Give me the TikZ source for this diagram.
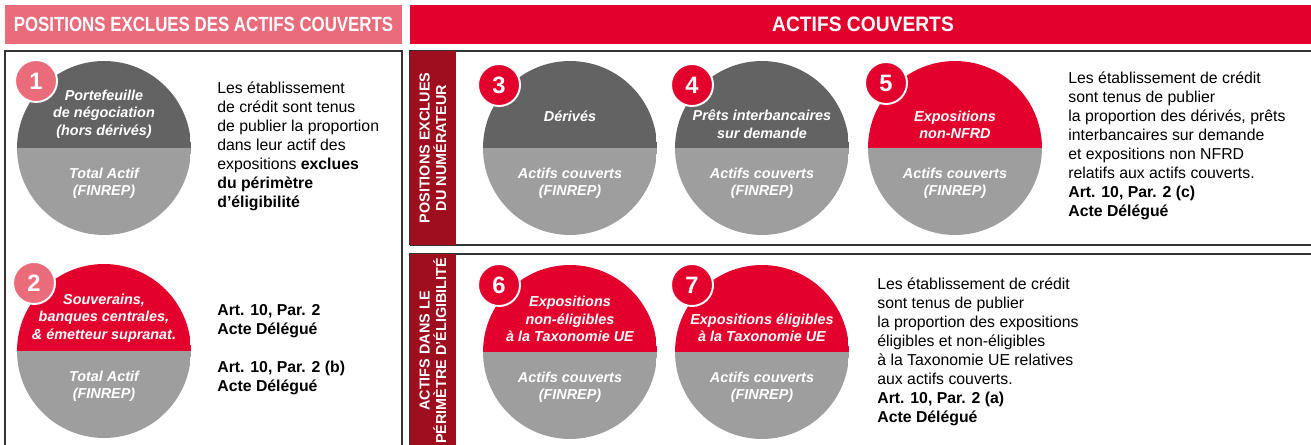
\documentclass[tikz,border=0pt]{standalone}
\usepackage{fontspec}
\setmainfont{Liberation Sans}
\newfontfamily\headfont{Liberation Sans}[FakeStretch=0.82]
\newfontfamily\headfontb{Liberation Sans}[FakeStretch=0.92]
\usetikzlibrary{positioning}
\definecolor{hsred}{RGB}{227,0,44}
\definecolor{hspink}{RGB}{234,107,121}
\definecolor{hsdark}{RGB}{158,14,30}
\definecolor{hsgrey}{RGB}{99,99,99}
\definecolor{hslight}{RGB}{158,158,158}

\tikzset{
  frame/.style={draw=black!80, line width=0.8pt},
  pie/.style 2 args={circle, inner sep=0pt, minimum size=3.48cm,
    path picture={
      \fill[#1] (path picture bounding box.north west) rectangle (path picture bounding box.east);
      \fill[#2] (path picture bounding box.west) rectangle (path picture bounding box.south east);
    }},
  badge/.style={circle, fill=#1, draw=white, line width=1.1pt, minimum size=0.84cm,
    inner sep=0pt, text=white, font=\fontsize{13.5}{14}\selectfont\bfseries},
  pietext/.style={text=white, align=center, inner sep=0pt,
    font=\fontsize{8.2}{9.9}\selectfont\bfseries\itshape},
  bodytext/.style={anchor=west, align=left, inner sep=0pt,
    font=\fontsize{9}{10.8}\selectfont},
  sidetext/.style={rotate=90, text=white, align=center, inner sep=0pt,
    font=\fontsize{8.2}{9.4}\selectfont\bfseries},
}

\begin{document}
\begin{tikzpicture}[x=0.02cm,y=-0.02cm]
  \useasboundingbox (0,0) rectangle (1311,445);

  % headers
  \fill[hspink] (5,5) rectangle (402,44);
  \node[text=white, font=\headfont\bfseries\fontsize{11.7}{12}\selectfont] (hleft) at (203.5,24.5) {POSITIONS EXCLUES DES ACTIFS COUVERTS};
  \fill[hsred] (410,5) rectangle (1311,44);
  \node[text=white, font=\headfontb\bfseries\fontsize{11.9}{12}\selectfont] (hright) at (863,24.5) {ACTIFS COUVERTS};

  % frames
  \draw[frame] (5,445) -- (5,51) -- (402,51) -- (402,445);
  \draw[frame] (410,245) -- (410,51) -- (1311,51);
  \draw[frame] (410,245) -- (1311,245);
  \draw[frame] (410,445) -- (410,254) -- (1311,254);

  % side bars
  \fill[hsdark] (410,51) rectangle (456,245);
  \fill[hsdark] (410,254) rectangle (456,445);
  \node[sidetext] (s1) at (433,148) {POSITIONS EXCLUES\\DU NUMÉRATEUR};
  \node[sidetext] (s2) at (433,351) {ACTIFS DANS LE\\PÉRIMÈTRE D'ÉLIGIBILITÉ};

  % 1
  \node[pie={hsgrey}{hslight}] (c1) at (104,148) {};
  \node[pietext] at ([yshift=0.68cm]c1.center) {Portefeuille\\de négociation\\(hors dérivés)};
  \node[pietext] at ([yshift=-0.7cm]c1.center) {Total Actif\\(FINREP)};
  \node[badge=hspink] (b1) at ([xshift=-1.36cm,yshift=1.34cm]c1.center) {1};
  \node[bodytext] (t1) at (217,146) {Les établissement\\de crédit sont tenus\\de publier la proportion\\dans leur actif des\\expositions \textbf{exclues}\\\textbf{du périmètre}\\\textbf{d’éligibilité}};

  % 2
  \node[pie={hsred}{hslight}] (c2) at (104,351) {};
  \node[pietext] at ([yshift=0.66cm]c2.center) {Souverains,\\banques centrales,\\\& émetteur supranat.};
  \node[pietext] at ([yshift=-0.7cm]c2.center) {Total Actif\\(FINREP)};
  \node[badge=hspink] (b2) at ([xshift=-1.4cm,yshift=1.36cm]c2.center) {2};
  \node[bodytext, font=\fontsize{9}{10.8}\selectfont\bfseries] (t2) at (217,321) {Art. 10, Par. 2\\Acte Délégué};
  \node[bodytext, font=\fontsize{9}{10.8}\selectfont\bfseries] (t2b) at (217,377.5) {Art. 10, Par. 2 (b)\\Acte Délégué};

  % 3
  \node[pie={hsgrey}{hslight}] (c3) at (570,148) {};
  \node[pietext] at ([yshift=0.64cm]c3.center) {Dérivés};
  \node[pietext] at ([yshift=-0.7cm]c3.center) {Actifs couverts\\(FINREP)};
  \node[badge=hsred] (b3) at ([xshift=-1.42cm,yshift=1.26cm]c3.center) {3};

  % 4
  \node[pie={hsgrey}{hslight}] (c4) at (762,148) {};
  \node[pietext] at ([yshift=0.48cm]c4.center) {Prêts interbancaires\\sur demande};
  \node[pietext] at ([yshift=-0.7cm]c4.center) {Actifs couverts\\(FINREP)};
  \node[badge=hsred] (b4) at ([xshift=-1.4cm,yshift=1.26cm]c4.center) {4};

  % 5
  \node[pie={hsred}{hslight}] (c5) at (955,148) {};
  \node[pietext] at ([yshift=0.46cm]c5.center) {Expositions\\non-NFRD};
  \node[pietext] at ([yshift=-0.7cm]c5.center) {Actifs couverts\\(FINREP)};
  \node[badge=hsred] (b5) at ([xshift=-1.38cm,yshift=1.3cm]c5.center) {5};
  \node[bodytext] (t5) at (1068,146) {Les établissement de crédit\\sont tenus de publier\\la proportion des dérivés, prêts\\interbancaires sur demande\\et expositions non NFRD\\relatifs aux actifs couverts.\\\textbf{Art. 10, Par. 2 (c)}\\\textbf{Acte Délégué}};

  % 6
  \node[pie={hsred}{hslight}] (c6) at (570,352) {};
  \node[pietext] at ([yshift=0.66cm]c6.center) {Expositions\\non-éligibles\\à la Taxonomie UE};
  \node[pietext] at ([yshift=-0.7cm]c6.center) {Actifs couverts\\(FINREP)};
  \node[badge=hsred] (b6) at ([xshift=-1.42cm,yshift=1.34cm]c6.center) {6};

  % 7
  \node[pie={hsred}{hslight}] (c7) at (762,352) {};
  \node[pietext] at ([yshift=0.48cm]c7.center) {Expositions éligibles\\à la Taxonomie UE};
  \node[pietext] at ([yshift=-0.7cm]c7.center) {Actifs couverts\\(FINREP)};
  \node[badge=hsred] (b7) at ([xshift=-1.4cm,yshift=1.34cm]c7.center) {7};
  \node[bodytext] (t7) at (877,352) {Les établissement de crédit\\sont tenus de publier\\la proportion des expositions\\éligibles et non-éligibles\\à la Taxonomie UE relatives\\aux actifs couverts.\\\textbf{Art. 10, Par. 2 (a)}\\\textbf{Acte Délégué}};
\end{tikzpicture}
\end{document}
